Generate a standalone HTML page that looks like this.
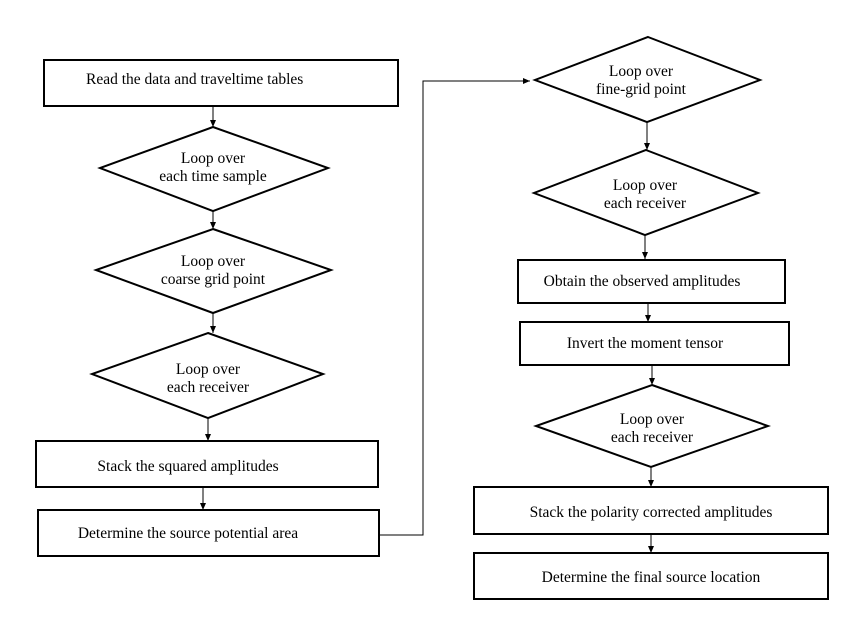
<!DOCTYPE html>
<html><head><style>html,body{margin:0;padding:0;background:#fff}</style></head><body>
<svg width="857" height="637" xmlns="http://www.w3.org/2000/svg" style="font-family:'Liberation Serif',serif" font-size="15.5" fill="#000">
<defs><marker id="a" markerWidth="8" markerHeight="8" refX="7" refY="4" orient="auto" markerUnits="userSpaceOnUse"><path d="M0,1 L7,4 L0,7 Z" fill="#000"/></marker></defs>
<g fill="none" stroke="#000" stroke-width="2">
<rect x="44" y="60" width="354" height="46"/>
<polygon points="213,127 328,168 213,211 100,168"/>
<polygon points="213,229 331,270 213,313 96,270"/>
<polygon points="208,333 323,374 208,418 92,374"/>
<rect x="36" y="441" width="342" height="46"/>
<rect x="38" y="510" width="341" height="46"/>
<polygon points="648,37 760,80 647,122 535,80"/>
<polygon points="646,150 758,193 645,235 534,193"/>
<rect x="518" y="260" width="267" height="43"/>
<rect x="520" y="322" width="269" height="43"/>
<polygon points="652,385 768,426 651,467 536,426"/>
<rect x="474" y="487" width="354" height="47"/>
<rect x="474" y="553" width="354" height="46"/>
</g>
<g stroke="#000" stroke-width="1" fill="none" marker-end="url(#a)">
<line x1="213" y1="106" x2="213" y2="127"/>
<line x1="213" y1="211" x2="213" y2="229"/>
<line x1="213" y1="313" x2="213" y2="333"/>
<line x1="208" y1="418" x2="208" y2="441"/>
<line x1="203" y1="487" x2="203" y2="510"/>
<polyline points="379,535 423,535 423,81 530,81"/>
<line x1="647" y1="122" x2="647" y2="150"/>
<line x1="645" y1="235" x2="645" y2="259"/>
<line x1="648" y1="303" x2="648" y2="322"/>
<line x1="652" y1="365" x2="652" y2="385"/>
<line x1="651" y1="467" x2="651" y2="487"/>
<line x1="651" y1="534" x2="651" y2="553"/>
</g>
<text x="86" y="84">Read the data and traveltime tables</text>
<g text-anchor="middle">
<text x="213" y="163">Loop over</text><text x="213" y="181">each time sample</text>
<text x="213" y="266">Loop over</text><text x="213" y="284">coarse grid point</text>
<text x="208" y="374">Loop over</text><text x="208" y="392">each receiver</text>
<text x="188" y="471">Stack the squared amplitudes</text>
<text x="188" y="538">Determine the source potential area</text>
<text x="641" y="76">Loop over</text><text x="641" y="94">fine-grid point</text>
<text x="645" y="190">Loop over</text><text x="645" y="208">each receiver</text>
<text x="642" y="286">Obtain the observed amplitudes</text>
<text x="645" y="348">Invert the moment tensor</text>
<text x="652" y="424">Loop over</text><text x="652" y="442">each receiver</text>
<text x="651" y="517">Stack the polarity corrected amplitudes</text>
<text x="651" y="582">Determine the final source location</text>
</g>
</svg>
</body></html>
